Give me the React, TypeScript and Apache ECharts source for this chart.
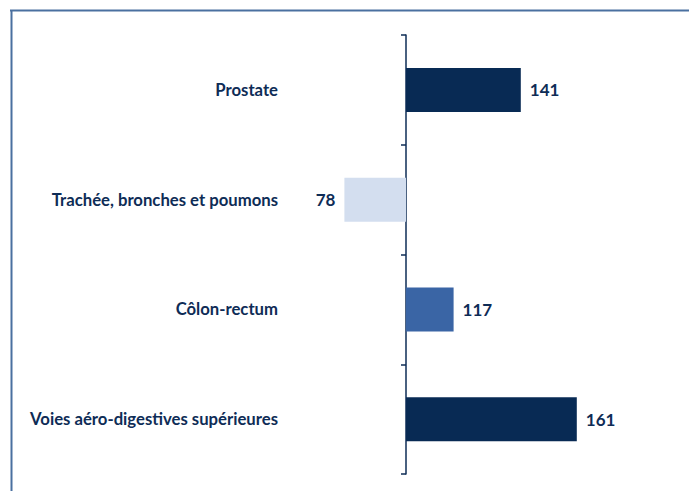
import React, { useEffect, useRef } from "react";
import * as echarts from "echarts";

const categories: string[] = [
  "Prostate",
  "Trachée, bronches et poumons",
  "Côlon-rectum",
  "Voies aéro-digestives supérieures",
];
const values: number[] = [141, 78, 117, 161];
const reference = 100;
const barColors: string[] = ["#082A54", "#D3DEEF", "#3A65A5", "#082A54"];

const textColor = "#0E2C56";
const fontFamily = "Lato, 'DejaVu Sans', sans-serif";

export default function App() {
  const ref = useRef<HTMLDivElement>(null);
  useEffect(() => {
    if (!ref.current) return;
    const chart = echarts.init(ref.current, null, { renderer: "svg" });
    chart.setOption({
      animation: false,
      backgroundColor: "#ffffff",
      grid: { left: 294, right: 3, top: 35, bottom: 17, containLabel: false, outerBoundsMode: "none" },
      xAxis: {
        type: "value",
        min: -40,
        max: 100,
        show: false,
        splitLine: { show: false },
      },
      yAxis: {
        type: "category",
        data: categories,
        inverse: true,
        axisLine: { show: true, onZero: true, lineStyle: { color: "#0E2C56", width: 1.5 } },
        axisTick: { show: true, length: 5, lineStyle: { color: "#0E2C56", width: 1.5 } },
        axisLabel: {
          margin: 16,
          color: textColor,
          fontWeight: "bold",
          fontSize: 16.7,
          fontFamily,
        },
      },
      series: [
        {
          type: "bar",
          barWidth: 44,
          data: values.map((v, i) => ({
            value: v - reference,
            itemStyle: { color: barColors[i] },
            label: {
              show: true,
              position: v - reference < 0 ? "left" : "right",
              distance: 9,
              formatter: () => String(v),
              color: textColor,
              fontWeight: "bold",
              fontSize: 17,
              fontFamily,
            },
          })),
        },
      ],
      graphic: [
        {
          type: "line",
          shape: { x1: 10, y1: 10.5, x2: 689, y2: 10.5 },
          style: { stroke: "#4A70A0", lineWidth: 2 },
        },
        {
          type: "line",
          shape: { x1: 11.5, y1: 10, x2: 11.5, y2: 491 },
          style: { stroke: "#4A70A0", lineWidth: 2 },
        },
      ],
    });
    return () => chart.dispose();
  }, []);
  return (
    <div
      ref={ref}
      style={{ position: "fixed", left: 0, top: 0, width: 689, height: 491 }}
    />
  );
}
